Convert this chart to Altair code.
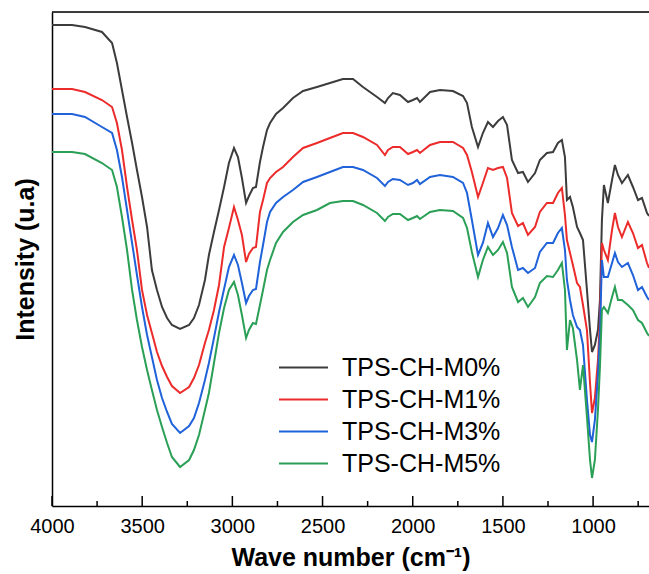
import altair as alt
import pandas as pd

# Wavenumber grid (cm-1)
wavenumber = [4000, 3889, 3817, 3723, 3667, 3640, 3612, 3584, 3556, 3529,
              3501, 3473, 3446, 3418, 3390, 3362, 3335, 3290, 3240, 3213,
              3185, 3152, 3130, 3102, 3074, 3046, 3019, 2991, 2969, 2947,
              2924, 2908, 2886, 2869, 2847, 2830, 2808, 2791, 2758, 2719,
              2664, 2608, 2531, 2459, 2387, 2331, 2276, 2198, 2154, 2137,
              2110, 2071, 2026, 1999, 1976, 1960, 1904, 1849, 1777, 1721,
              1699, 1672, 1638, 1611, 1583, 1555, 1527, 1500, 1477, 1450,
              1416, 1389, 1361, 1322, 1295, 1256, 1222, 1195, 1173, 1156,
              1145, 1128, 1112, 1089, 1073, 1056, 1034, 1017, 1006, 990,
              973, 962, 951, 940, 918, 895, 879, 862, 840, 807,
              779, 751, 729, 701, 690]

m0 = [481, 481, 479, 474, 463, 443, 416, 389, 363, 336,
      309, 279, 236, 216, 199, 188, 181, 177, 181, 188,
      201, 226, 251, 274, 296, 319, 343, 358, 349, 328,
      303, 310, 318, 319, 344, 359, 376, 383, 392, 398,
      408, 415, 419, 423, 427, 427, 419, 409, 403, 408,
      413, 411, 404, 406, 408, 404, 414, 416, 415, 410,
      403, 379, 359, 373, 384, 379, 385, 389, 381, 346,
      333, 334, 324, 333, 346, 353, 354, 363, 366, 349,
      306, 309, 299, 279, 273, 266, 216, 176, 154, 161,
      176, 206, 286, 321, 303, 326, 341, 331, 323, 331,
      319, 306, 308, 293, 290]

m1 = [417, 417, 414, 406, 399, 383, 356, 319, 286, 256,
      216, 191, 173, 154, 140, 129, 120, 113, 119, 128,
      141, 163, 176, 196, 221, 259, 278, 299, 286, 271,
      244, 252, 258, 259, 294, 306, 323, 328, 334, 339,
      349, 358, 363, 368, 373, 373, 369, 361, 351, 356,
      359, 359, 352, 354, 356, 353, 361, 364, 364, 358,
      351, 334, 309, 323, 338, 336, 338, 339, 328, 293,
      280, 283, 271, 279, 294, 303, 303, 313, 318, 291,
      266, 253, 241, 223, 219, 201, 176, 123, 93, 108,
      146, 186, 263, 256, 246, 276, 293, 279, 269, 284,
      273, 258, 261, 243, 238]

m3 = [392, 392, 389, 379, 373, 356, 329, 296, 263, 231,
      199, 171, 149, 126, 108, 94, 82, 73, 80, 88,
      103, 126, 143, 168, 194, 217, 239, 251, 241, 223,
      203, 210, 216, 217, 244, 261, 284, 294, 303, 309,
      316, 324, 329, 334, 339, 339, 336, 328, 320, 324,
      327, 326, 321, 323, 326, 322, 329, 331, 329, 323,
      313, 286, 251, 263, 283, 269, 278, 291, 281, 259,
      236, 238, 233, 238, 254, 263, 263, 273, 278, 256,
      226, 206, 191, 179, 176, 161, 106, 71, 64, 86,
      131, 173, 246, 229, 229, 243, 253, 244, 239, 243,
      231, 216, 219, 209, 206]

m5 = [354, 354, 352, 343, 336, 319, 289, 256, 216, 186,
      159, 136, 116, 96, 79, 63, 49, 39, 46, 56,
      71, 96, 113, 143, 173, 198, 216, 224, 211, 191,
      168, 176, 183, 182, 201, 216, 236, 246, 263, 274,
      284, 291, 296, 303, 305, 305, 301, 293, 285, 289,
      292, 292, 286, 288, 290, 287, 294, 296, 295, 288,
      278, 254, 229, 246, 259, 251, 256, 264, 253, 219,
      204, 208, 199, 209, 223, 230, 229, 236, 243, 216,
      156, 186, 178, 146, 116, 141, 89, 46, 28, 46,
      96, 139, 196, 199, 193, 209, 219, 206, 206, 201,
      196, 186, 183, 173, 170]

series_names = ["TPS-CH-M0%", "TPS-CH-M1%", "TPS-CH-M3%", "TPS-CH-M5%"]
series_colors = ["#3c3c3c", "#ec2b2b", "#1f62d9", "#2a9f56"]

major_ticks = [4000, 3500, 3000, 2500, 2000, 1500, 1000]
minor_ticks = [3750, 3250, 2750, 2250, 1750, 1250, 750]

for s in (m0, m1, m3, m5):
    assert len(s) == len(wavenumber), len(s)

rows = []
for name, vals in zip(series_names, (m0, m1, m3, m5)):
    for w, v in zip(wavenumber, vals):
        rows.append({"wn": w, "I": v, "sample": name})
df = pd.DataFrame(rows)

FONT = "Liberation Sans"
xscale = alt.Scale(domain=[690, 4000], reverse=True, nice=False, zero=False)
yscale = alt.Scale(domain=[0, 494], nice=False, zero=False)

lines = alt.Chart(df).mark_line(strokeWidth=2, clip=True).encode(
    x=alt.X("wn:Q", scale=xscale,
            axis=alt.Axis(values=major_ticks, title="Wave number (cm⁻¹)", format="d",
                          ticks=False, labelFontSize=20, labelFont=FONT, labelColor="#000",
                          labelPadding=10, domainColor="#000", domainWidth=1.5,
                          titleFont=FONT, titleFontSize=25, titleFontWeight="bold",
                          titleColor="#000", titlePadding=9, grid=False,
                          labelFlush=False, labelOverlap=False)),
    y=alt.Y("I:Q", scale=yscale,
            axis=alt.Axis(labels=False, ticks=False, grid=False, title="Intensity (u.a)",
                          domainColor="#000", domainWidth=1.5, titleFont=FONT,
                          titleFontSize=25, titleFontWeight="bold", titleColor="#000",
                          titlePadding=14)),
    color=alt.Color("sample:N",
                    scale=alt.Scale(domain=series_names, range=series_colors),
                    legend=alt.Legend(title=None, orient="none", legendX=238, legendY=342,
                                      symbolType="M-2,0H2", symbolSize=600,
                                      symbolStrokeWidth=2, symbolFillColor="transparent",
                                      labelFontSize=25,
                                      labelFont=FONT, labelColor="#000",
                                      labelOffset=25, rowPadding=5, padding=0)),
    order=alt.Order("wn:Q", sort="descending"),
)

major = alt.Chart(pd.DataFrame({"t": major_ticks})).mark_rule(color="#000", strokeWidth=1.5).encode(
    x=alt.X("t:Q", scale=xscale), y=alt.value(494), y2=alt.value(484))
minor = alt.Chart(pd.DataFrame({"t": minor_ticks})).mark_rule(color="#000", strokeWidth=1.5).encode(
    x=alt.X("t:Q", scale=xscale), y=alt.value(494), y2=alt.value(489))
topline = alt.Chart(pd.DataFrame({"a": [0]})).mark_rule(color="#000", strokeWidth=1.5).encode(
    x=alt.value(0), x2=alt.value(600), y=alt.value(0))

chart = alt.layer(lines, major, minor, topline).properties(
    width=597, height=494,
    autosize=alt.AutoSizeParams(type="none"),
    padding={"left": 52, "top": 12, "right": 0, "bottom": 68},
).configure_view(stroke=None).configure(background="white")

chart.save("out.html", embed_options={"renderer": "svg", "actions": False})
